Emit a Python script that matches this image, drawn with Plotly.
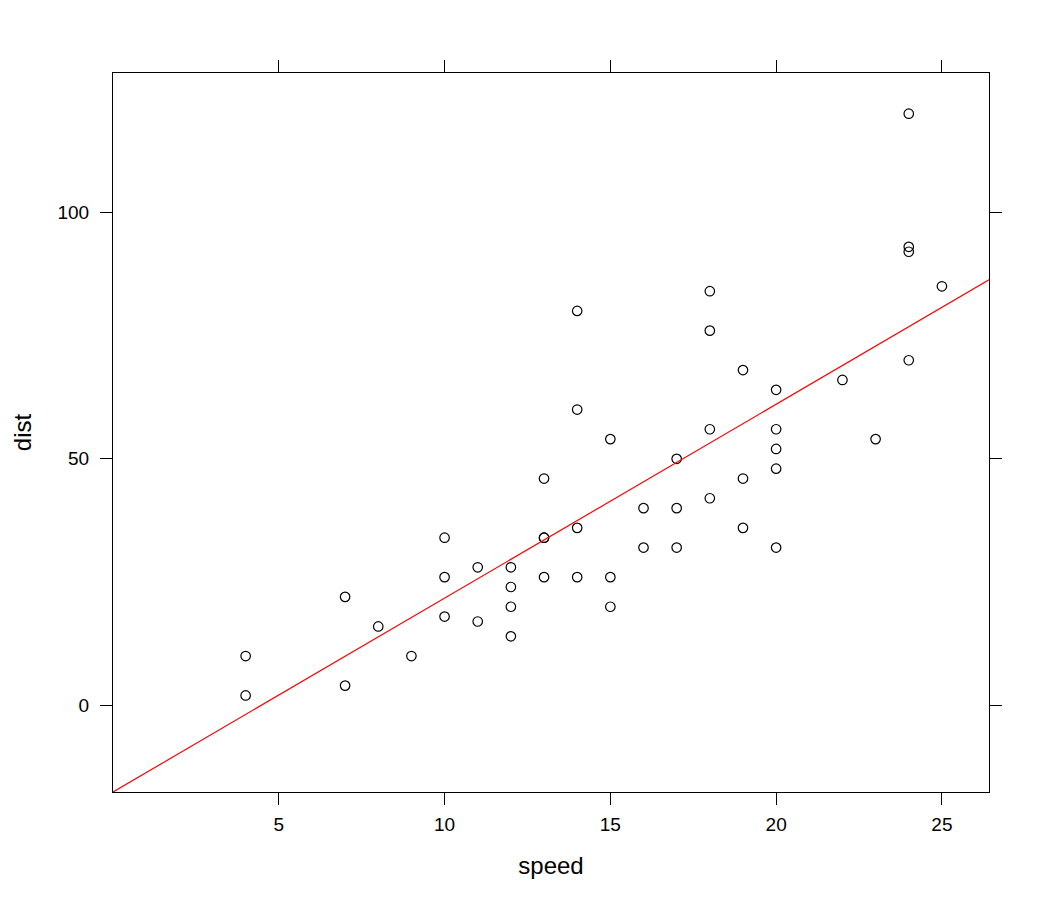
import numpy as np
import plotly.graph_objects as go

speed = [4, 4, 7, 7, 8, 9, 10, 10, 10, 11, 11, 12, 12, 12, 12, 13, 13, 13, 13, 14,
         14, 14, 14, 15, 15, 15, 16, 16, 17, 17, 17, 18, 18, 18, 18, 19, 19, 19, 20, 20,
         20, 20, 20, 22, 23, 24, 24, 24, 24, 25]
dist = [2, 10, 4, 22, 16, 10, 18, 26, 34, 17, 28, 14, 20, 24, 28, 26, 34, 34, 46, 26,
        36, 60, 80, 20, 26, 54, 32, 40, 32, 40, 50, 42, 56, 76, 84, 36, 46, 68, 32, 48,
        52, 56, 64, 66, 54, 70, 92, 93, 120, 85]
x_ticks = [5, 10, 15, 20, 25]
y_ticks = [0, 50, 100]

xr = [0, 26.42]
slope, intercept = np.polyfit(speed, dist, 1)
yr = [intercept + slope * xr[0], 128.26]

FONT = "Liberation Sans, Arial, sans-serif"

fig = go.Figure()
fig.add_trace(go.Scatter(
    x=speed, y=dist, mode="markers",
    marker=dict(symbol="circle-open", size=9.5, color="black", line=dict(width=1.2, color="black")),
    showlegend=False, cliponaxis=False))
line_x = np.array(xr)
fig.add_trace(go.Scatter(
    x=line_x, y=intercept + slope * line_x, mode="lines",
    line=dict(color="red", width=1.2), showlegend=False))

axis_common = dict(showgrid=False, zeroline=False, showline=True, linecolor="black",
                   linewidth=1, mirror="ticks", ticks="outside", ticklen=12,
                   tickcolor="black", tickwidth=1,
                   tickfont=dict(family=FONT, size=19, color="black"))

fig.update_xaxes(range=xr, tickvals=x_ticks, ticklabelstandoff=3,
                 title=dict(text="speed", standoff=23,
                            font=dict(family=FONT, size=24, color="black")),
                 **axis_common)
fig.update_yaxes(range=yr, tickvals=y_ticks, ticklabelstandoff=7,
                 title=dict(text="dist", standoff=19,
                            font=dict(family=FONT, size=24, color="black")),
                 **axis_common)

fig.update_layout(width=1050, height=900, plot_bgcolor="white", paper_bgcolor="white",
                  margin=dict(l=105, r=69, t=65, b=116), showlegend=False)
fig.write_html("out.html")
